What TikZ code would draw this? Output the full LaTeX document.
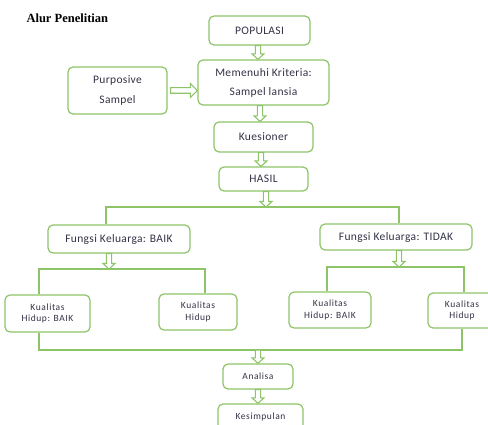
\documentclass[tikz,border=0pt]{standalone}
\usepackage{fontspec}
\setmainfont{Carlito}
\newfontfamily\titlefont{Liberation Serif}
\usetikzlibrary{calc}
\definecolor{leaf}{RGB}{141,196,104}
\definecolor{ink}{RGB}{50,50,70}
% hollow block arrows, x taken from the first point
\newcommand\downarr[2]{\draw[arr] let \p1=(#1), \p2=(#2) in (\x1-2.6pt,\y1) -- (\x1-2.6pt,\y2+5.5pt) -- (\x1-6pt,\y2+5.5pt) -- (\x1,\y2) -- (\x1+6pt,\y2+5.5pt) -- (\x1+2.6pt,\y2+5.5pt) -- (\x1+2.6pt,\y1) -- cycle;}
\newcommand\rightarr[2]{\draw[arr] let \p1=(#1), \p2=(#2) in (\x1,\y1+2.8pt) -- (\x2-7pt,\y1+2.8pt) -- (\x2-7pt,\y1+7pt) -- (\x2,\y1) -- (\x2-7pt,\y1-7pt) -- (\x2-7pt,\y1-2.8pt) -- (\x1,\y1-2.8pt) -- cycle;}

\begin{document}
\begin{tikzpicture}[x=1pt, y=-1pt,
  box/.style={draw=leaf, line width=1.2pt, rounded corners=5pt, text=ink, align=center, inner sep=0pt, font=\fontsize{11.5}{13}\selectfont\addfontfeature{LetterSpace=3}},
  small/.style={font=\fontsize{9.5}{11.5}\selectfont\addfontfeature{LetterSpace=6}},
  rail/.style={draw=leaf, line width=1.2pt},
  arr/.style={draw=leaf, line width=1.1pt, fill=white, line join=miter}]
\clip (0,0) rectangle (488,425);
\node[anchor=base west, font=\titlefont\bfseries\fontsize{12.5}{14}\selectfont] (title) at (23,23) {Alur Penelitian};
% upper column
\node[box, minimum width=101pt, minimum height=29pt] (pop) at (259.5,30.5) {POPULASI};
\node[box, minimum width=131pt, minimum height=45pt] (crit) at (263.5,82.5) {Memenuhi Kriteria:\\[6pt] Sampel lansia};
\node[box, minimum width=99pt, minimum height=47pt] (purp) at (117.5,90.5) {Purposive\\[7pt] Sampel};
\node[box, minimum width=99pt, minimum height=30pt] (kues) at (263.5,137) {Kuesioner};
\node[box, minimum width=89pt, minimum height=24pt] (hasil) at (263.5,179) {HASIL};
% fungsi keluarga
\node[box, minimum width=142pt, minimum height=28pt] (fbaik) at (119,239) {Fungsi Keluarga: BAIK};
\node[box, minimum width=152pt, minimum height=26pt] (ftidak) at (396,237) {Fungsi Keluarga: TIDAK};
% kualitas hidup
\node[box, small, minimum width=85pt, minimum height=37pt] (kq1) at (47.5,313.5) {Kualitas\\ Hidup: BAIK};
\node[box, small, minimum width=78pt, minimum height=36pt] (kq2) at (198,312) {Kualitas\\ Hidup};
\node[box, small, minimum width=82pt, minimum height=36pt] (kq3) at (330,310) {Kualitas\\ Hidup: BAIK};
\node[box, small, minimum width=68pt, minimum height=35pt] (kq4) at (462,310.5) {Kualitas\\ Hidup};
% lower column
\node[box, small, minimum width=70pt, minimum height=25pt] (ana) at (258,376.5) {Analisa};
\node[box, small, minimum width=85pt, minimum height=26pt] (kes) at (260.5,417) {Kesimpulan};

\coordinate (j1) at (266,207);
\coordinate (j1l) at (106,207);
\coordinate (j1r) at (399,207);
\coordinate (j2) at (109,269);
\coordinate (j2l) at (39,269);
\coordinate (j2r) at (205,269);
\coordinate (j3) at (399,267);
\coordinate (j3l) at (327,267);
\coordinate (j3r) at (464,267);
\coordinate (j4) at (258,350);
\coordinate (j4l) at (39,350);
\coordinate (j4r) at (462,350);

\draw[rail] (fbaik.north -| j1l) -- (j1l) -- (j1r) -- (ftidak.north -| j1r);
\draw[rail] (kq1.north -| j2l) -- (j2l) -- (j2r) -- (kq2.north -| j2r);
\draw[rail] (kq3.north -| j3l) -- (j3l) -- (j3r) -- (kq4.north -| j3r);
\draw[rail] (kq1.south -| j4l) -- (j4l) -- (j4r) -- (kq4.south -| j4r);

\downarr{$(pop.south)+(-1.5,0)$}{crit.north}
\downarr{$(crit.south)+(-3.5,0)$}{kues.north}
\downarr{$(kues.south)+(-2.5,0)$}{hasil.north}
\rightarr{$(purp.east)+(3,0)$}{crit.west}
\downarr{hasil.south -| j1}{j1}
\downarr{fbaik.south -| j2}{j2}
\downarr{ftidak.south -| j3}{j3}
\downarr{j4}{ana.north}
\downarr{ana.south}{kes.north}
\end{tikzpicture}
\end{document}
